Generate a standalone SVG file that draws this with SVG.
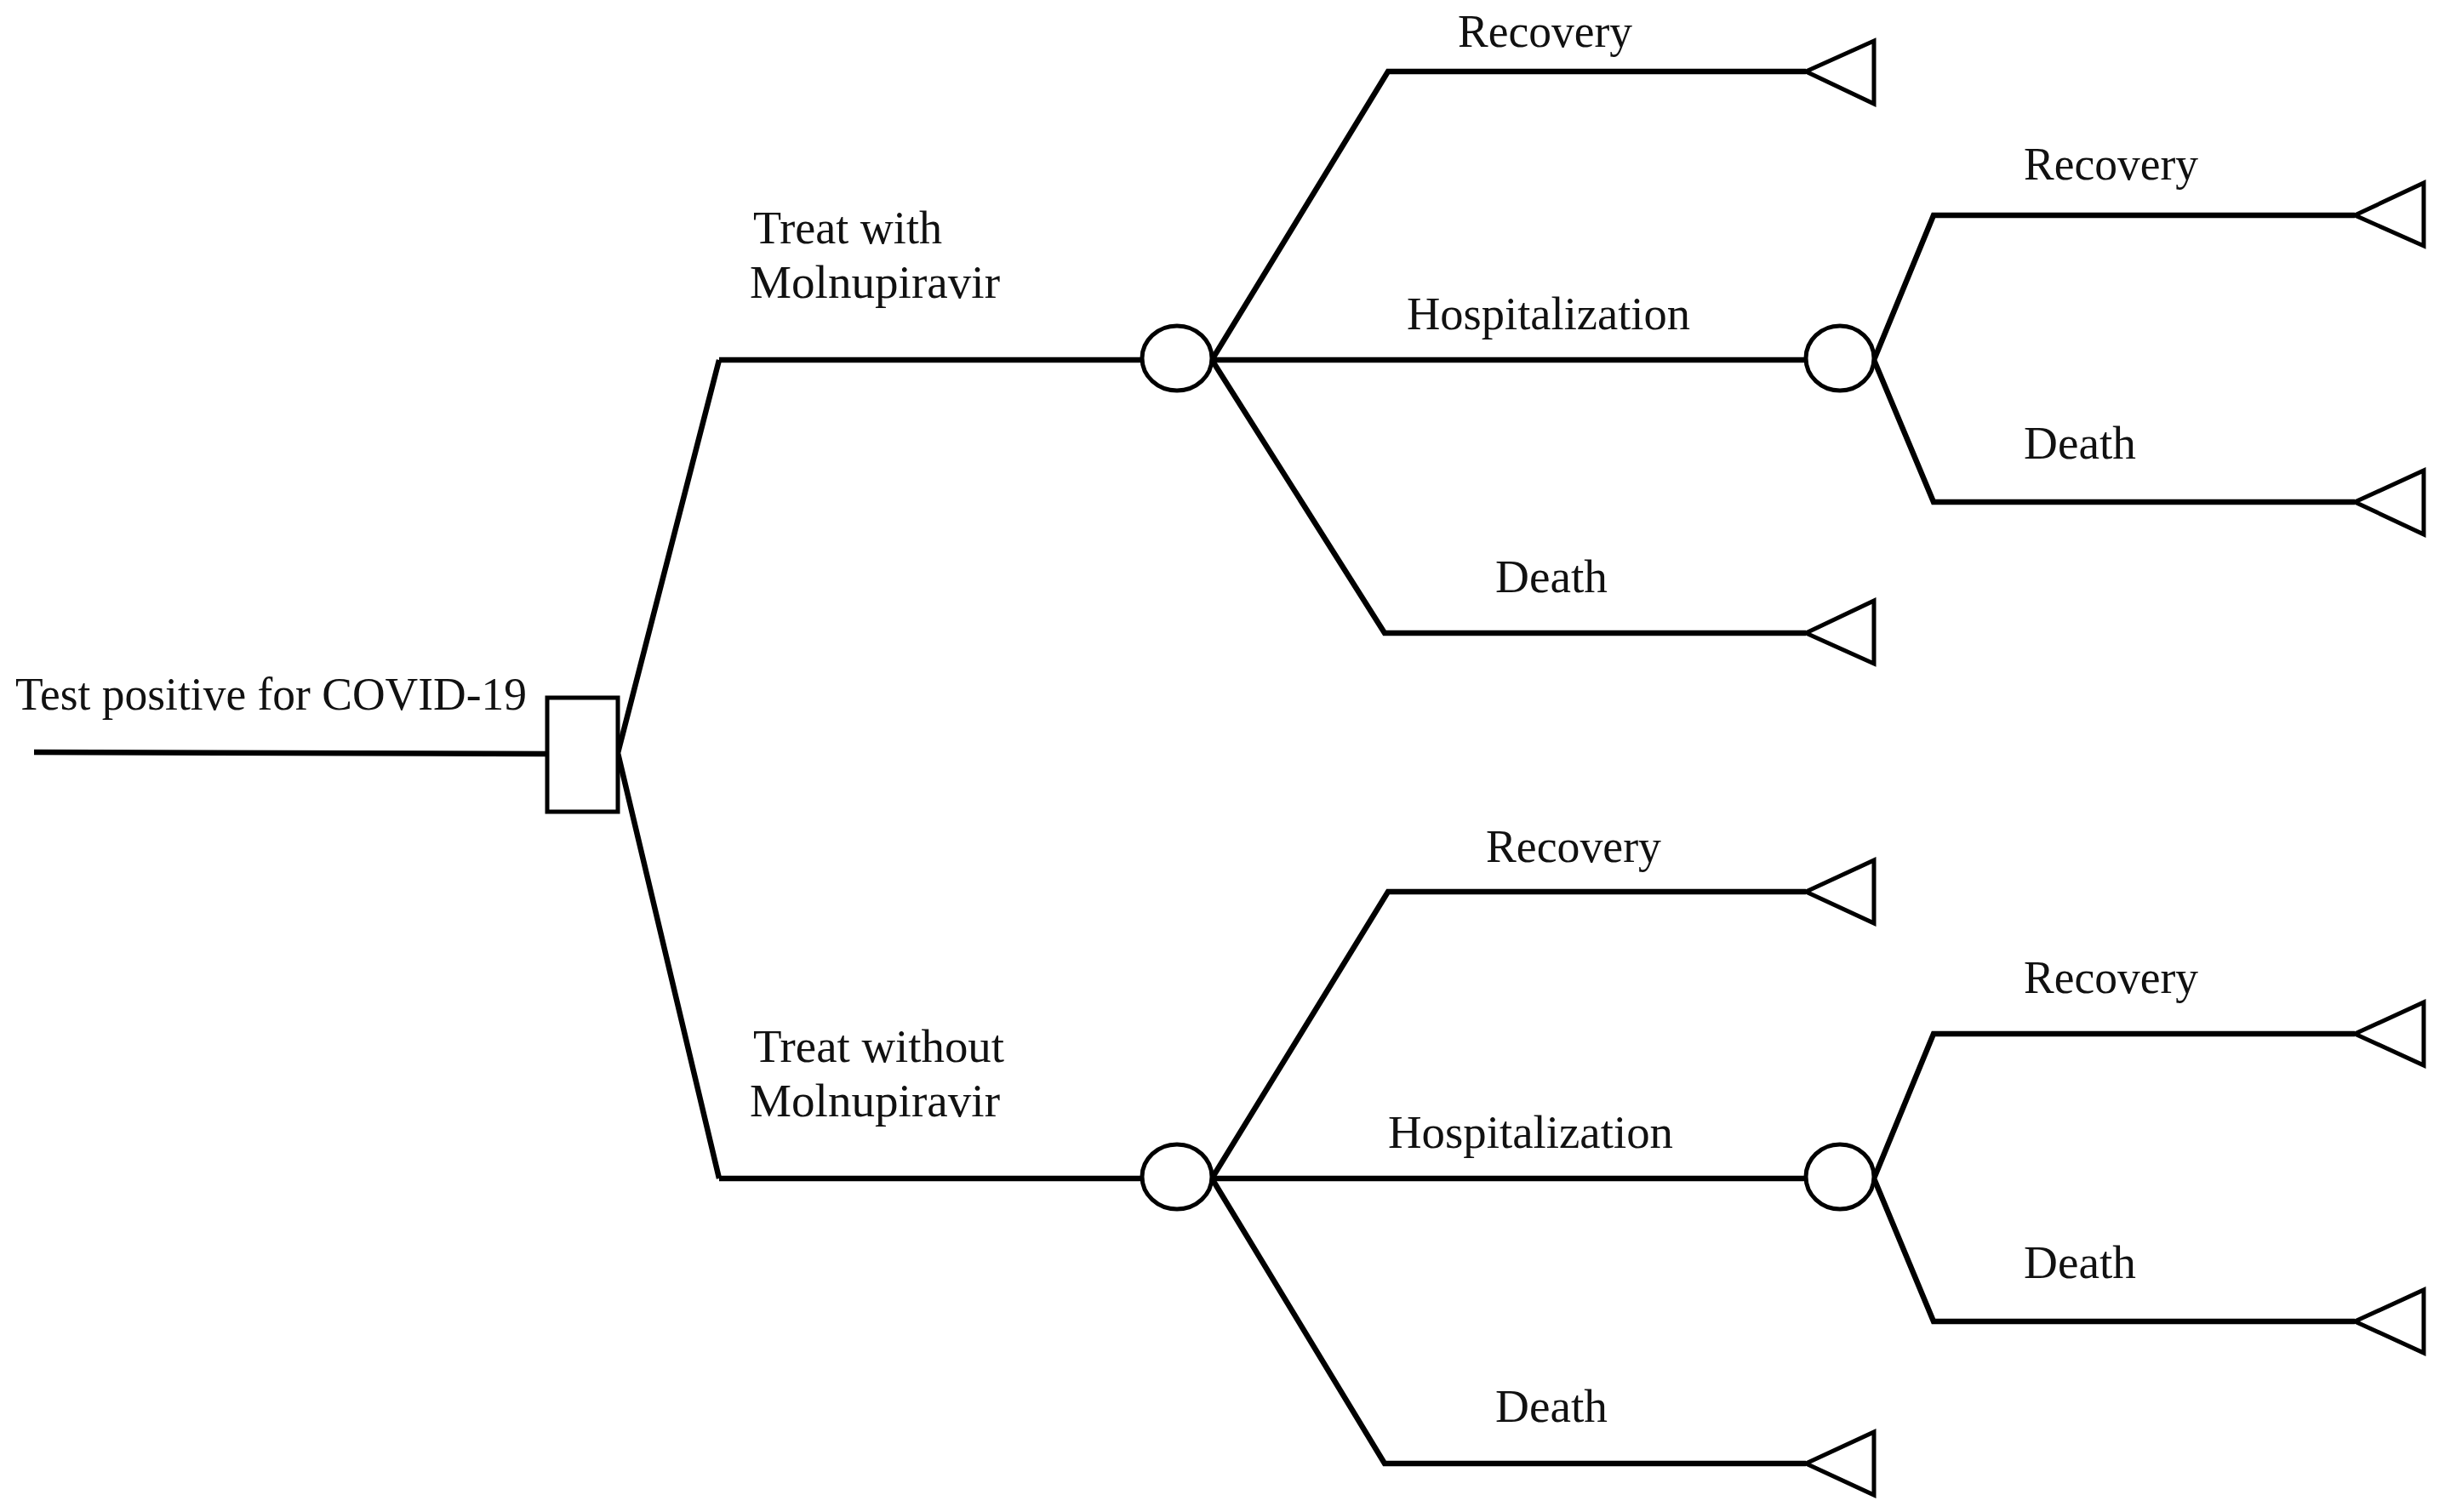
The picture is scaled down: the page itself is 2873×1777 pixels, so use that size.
<svg xmlns="http://www.w3.org/2000/svg" width="2873" height="1777" viewBox="0 0 2873 1777">
<style>
.ln{fill:none;stroke:#000;stroke-width:6.5;stroke-linejoin:miter}
.sh{fill:#fff;stroke:#000;stroke-width:5}
.t{font-family:"Liberation Serif","Times New Roman",serif;font-size:54px;fill:#111}
</style>
<rect width="2873" height="1777" fill="#fff"/>
<g id="connectors">
<polyline class="ln" points="40,884 643,886"/>
<polyline class="ln" points="845,423 726,885 845,1385"/>
<polyline class="ln" points="845,423 1343,423"/>
<polyline class="ln" points="845,1385 1343,1385"/>
<polyline class="ln" points="2122,84 1631,84 1424,423 1627,744 2122,744"/>
<polyline class="ln" points="1424,423 2122,423"/>
<polyline class="ln" points="2767,253 2272,253 2202,423 2272,590 2767,590"/>
<polyline class="ln" points="2122,1048 1631,1048 1424,1385 1627,1720 2122,1720"/>
<polyline class="ln" points="1424,1385 2122,1385"/>
<polyline class="ln" points="2767,1215 2272,1215 2202,1385 2272,1553 2767,1553"/>
</g>
<g id="decision"><rect class="sh" x="643" y="820" width="83" height="134"/></g>
<g id="chance1"><ellipse class="sh" cx="1383" cy="421" rx="41" ry="38"/></g>
<g id="chance2"><ellipse class="sh" cx="2162" cy="421" rx="40" ry="38"/></g>
<g id="chance3"><ellipse class="sh" cx="1383" cy="1383" rx="41" ry="38"/></g>
<g id="chance4"><ellipse class="sh" cx="2162" cy="1383" rx="40" ry="38"/></g>
<g id="term1"><polygon class="sh" points="2122,84 2202,48 2202,122"/></g>
<g id="term2"><polygon class="sh" points="2122,744 2202,706 2202,780"/></g>
<g id="term3"><polygon class="sh" points="2767,253 2848,215 2848,289"/></g>
<g id="term4"><polygon class="sh" points="2767,590 2848,553 2848,628"/></g>
<g id="term5"><polygon class="sh" points="2122,1048 2202,1011 2202,1085"/></g>
<g id="term6"><polygon class="sh" points="2122,1720 2202,1683 2202,1757"/></g>
<g id="term7"><polygon class="sh" points="2767,1215 2848,1178 2848,1252"/></g>
<g id="term8"><polygon class="sh" points="2767,1553 2848,1516 2848,1590"/></g>
<g id="labels">
<text class="t" x="18" y="834" textLength="601" lengthAdjust="spacingAndGlyphs">Test positive for COVID-19</text>
<text class="t" x="885" y="286" textLength="222" lengthAdjust="spacingAndGlyphs">Treat with</text>
<text class="t" x="881" y="350" textLength="294" lengthAdjust="spacingAndGlyphs">Molnupiravir</text>
<text class="t" x="885" y="1248" textLength="295" lengthAdjust="spacingAndGlyphs">Treat without</text>
<text class="t" x="881" y="1312" textLength="294" lengthAdjust="spacingAndGlyphs">Molnupiravir</text>
<text class="t" x="1713" y="55" textLength="205" lengthAdjust="spacingAndGlyphs">Recovery</text>
<text class="t" x="1653" y="387" textLength="333" lengthAdjust="spacingAndGlyphs">Hospitalization</text>
<text class="t" x="1757" y="696" textLength="132" lengthAdjust="spacingAndGlyphs">Death</text>
<text class="t" x="2378" y="211" textLength="205" lengthAdjust="spacingAndGlyphs">Recovery</text>
<text class="t" x="2378" y="539" textLength="132" lengthAdjust="spacingAndGlyphs">Death</text>
<text class="t" x="1746" y="1013" textLength="206" lengthAdjust="spacingAndGlyphs">Recovery</text>
<text class="t" x="1631" y="1349" textLength="335" lengthAdjust="spacingAndGlyphs">Hospitalization</text>
<text class="t" x="1757" y="1671" textLength="132" lengthAdjust="spacingAndGlyphs">Death</text>
<text class="t" x="2378" y="1167" textLength="205" lengthAdjust="spacingAndGlyphs">Recovery</text>
<text class="t" x="2378" y="1502" textLength="132" lengthAdjust="spacingAndGlyphs">Death</text>
</g>
</svg>
